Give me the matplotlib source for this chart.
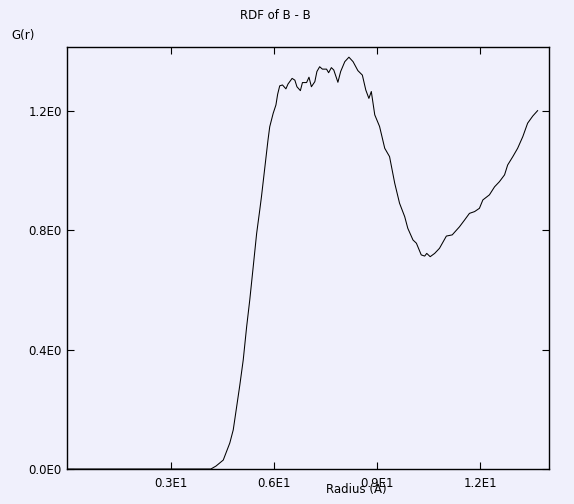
import matplotlib
matplotlib.use('Agg')
import matplotlib.pyplot as plt
import numpy as np

# RDF data
radius = [0.0, 4.17, 4.32, 4.53, 4.72, 4.82, 4.87, 5.01, 5.11, 5.21, 5.30, 5.40,
          5.50, 5.59, 5.64, 5.74, 5.83, 5.88, 5.98, 6.06, 6.11, 6.17, 6.25, 6.35,
          6.41, 6.53, 6.61, 6.67, 6.77, 6.83, 6.95, 7.02, 7.09, 7.19, 7.25, 7.33,
          7.41, 7.53, 7.59, 7.67, 7.74, 7.86, 7.94, 8.06, 8.18, 8.30, 8.44, 8.57,
          8.67, 8.76, 8.83, 8.93, 9.07, 9.22, 9.36, 9.51, 9.65, 9.80, 9.89, 10.04,
          10.14, 10.28, 10.38, 10.44, 10.54, 10.67, 10.81, 11.01, 11.18, 11.39,
          11.54, 11.68, 11.83, 11.97, 12.07, 12.26, 12.41, 12.55, 12.70, 12.79,
          12.94, 13.08, 13.23, 13.37, 13.52, 13.66]
g_r = [0.0, 0.0, 0.010, 0.030, 0.087, 0.131, 0.170, 0.280, 0.365, 0.477, 0.566, 0.677,
       0.789, 0.867, 0.912, 1.012, 1.102, 1.146, 1.191, 1.219, 1.255, 1.283, 1.286, 1.273,
       1.289, 1.308, 1.302, 1.280, 1.267, 1.294, 1.294, 1.312, 1.280, 1.297, 1.331, 1.347,
       1.339, 1.339, 1.327, 1.344, 1.336, 1.295, 1.331, 1.364, 1.379, 1.364, 1.334, 1.319,
       1.269, 1.241, 1.264, 1.186, 1.147, 1.074, 1.046, 0.957, 0.890, 0.845, 0.806, 0.767,
       0.756, 0.717, 0.713, 0.722, 0.711, 0.722, 0.739, 0.780, 0.784, 0.811,
       0.834, 0.856, 0.862, 0.873, 0.901, 0.918, 0.945, 0.962, 0.985, 1.018,
       1.046, 1.074, 1.113, 1.158, 1.182, 1.200]

x_ticks = [3, 6, 9, 12]
x_labels = ['0.3E1', '0.6E1', '0.9E1', '1.2E1']
y_ticks = [0.0, 0.4, 0.8, 1.2]
y_labels = ['0.0E0', '0.4E0', '0.8E0', '1.2E0']

bg = '#f0f0fc'
plt.rcParams['font.family'] = 'DejaVu Sans'

fig = plt.figure(figsize=(5.74, 5.04), dpi=100, facecolor=bg)
ax = fig.add_axes([0.1172, 0.0694, 0.8398, 0.8367])
ax.set_facecolor(bg)

ax.plot(radius, g_r, color='black', linewidth=0.75)

ax.set_xlim(0, 14)
ax.set_ylim(0, 1.412)
ax.set_xticks(x_ticks)
ax.set_xticklabels(x_labels)
ax.set_yticks(y_ticks)
ax.set_yticklabels(y_labels)
ax.tick_params(direction='in', top=True, right=True, length=5, width=0.8,
               labelsize=8.5, colors='black')
ax.tick_params(axis='x', pad=6)
ax.tick_params(axis='y', pad=4)
for s in ax.spines.values():
    s.set_linewidth(1.0)

fig.text(0.479, 0.970, 'RDF of B - B', ha='center', va='center', fontsize=8.5)
fig.text(0.041, 0.929, 'G(r)', ha='center', va='center', fontsize=8.5)
fig.text(0.620, 0.028, 'Radius (A)', ha='center', va='center', fontsize=8.5)

fig.savefig('out.png', dpi=100, facecolor=bg)
